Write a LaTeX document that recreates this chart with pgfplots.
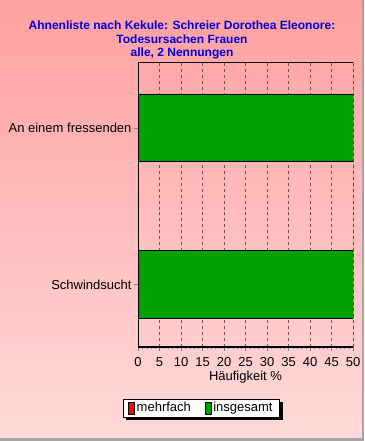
\documentclass[border=0pt]{standalone}
\usepackage{pgfplots}
\pgfplotsset{compat=1.18}
\usetikzlibrary{calc}
\usepackage{fontspec}
\setmainfont{Liberation Sans}
\definecolor{bgtop}{RGB}{255,160,160}
\definecolor{bgbot}{RGB}{255,218,218}
\definecolor{bargreen}{RGB}{0,160,0}
\definecolor{titleblue}{RGB}{0,0,220}
\definecolor{gridc}{RGB}{120,80,80}
\pgfdeclarelayer{bg}
\pgfdeclarelayer{shadowlayer}
\pgfsetlayers{bg,shadowlayer,main}
\pgfplotsset{
  boxlegend/.style={legend image code/.code={%
    \draw[##1, draw=black, line width=0.4pt] (0bp,-6bp) rectangle (6bp,6bp);}}
}
\begin{document}
\begin{tikzpicture}[x=1bp,y=1bp]
\begin{pgfonlayer}{bg}
\shade[top color=bgtop,bottom color=bgbot] (0,0) rectangle (364,441);
\fill[gray!70] (362,0) rectangle (364,441);
\fill[gray!70] (0,0) rectangle (364,3);
\end{pgfonlayer}
\node[align=center,font=\bfseries\fontsize{12bp}{13.5bp}\selectfont,text=titleblue] at (182,401) {Ahnenliste nach Kekule: Schreier Dorothea Eleonore:\\Todesursachen Frauen\\alle, 2 Nennungen};
\begin{axis}[
  at={(138bp,94bp)}, anchor=south west,
  width=215bp, height=285bp, scale only axis,
  xbar, bar width=0.43,
  xmin=0, xmax=50, ymin=-0.4, ymax=1.42,
  xtick={0,5,...,50},
  minor x tick num=4,
  ytick={0,1},
  yticklabels={Schwindsucht, An einem fressenden},
  xlabel={Häufigkeit \%},
  xlabel style={yshift=2bp},
  tick label style={font=\fontsize{13bp}{15bp}\selectfont},
  xticklabel style={yshift=-3bp},
  yticklabel style={xshift=1bp},
  label style={font=\fontsize{13bp}{15bp}\selectfont},
  /pgf/number format/assume math mode=true,
  xmajorgrids, major grid style={dashed, gridc, line width=0.5pt},
  tick align=outside,
  major tick length=4bp, minor tick length=2bp,
  xtick pos=bottom, ytick pos=left,
  axis line style={black},
  axis x line*=bottom, axis y line*=left,
  legend style={name=leg, at={(0.295,-0.182)}, anchor=north, legend columns=2,
    draw=black, fill=white, font=\fontsize{13bp}{15bp}\selectfont,
    inner xsep=5bp, inner ysep=1.5bp,
    /tikz/every even column/.append style={column sep=12bp}},
  boxlegend,
]
\addlegendimage{fill=red}
\addlegendentry{mehrfach}
\addplot[fill=bargreen, draw=black, line width=0.6pt] coordinates {(50,0) (50,1)};
\addlegendentry{insgesamt}
\draw[black, line width=1.5pt] (axis cs:0,-0.4) -- (axis cs:50,-0.4);
\draw[black, line width=1.5pt] (axis cs:0,-0.4) -- (axis cs:0,1.42);
\draw[black, line width=0.6pt] (axis cs:0,1.42) -- (axis cs:50,1.42) -- (axis cs:50,-0.4);
\end{axis}
\begin{pgfonlayer}{shadowlayer}
\fill[black] ($(leg.south west)+(3bp,-3bp)$) rectangle ($(leg.north east)+(3bp,-3bp)$);
\end{pgfonlayer}
\end{tikzpicture}
\end{document}
